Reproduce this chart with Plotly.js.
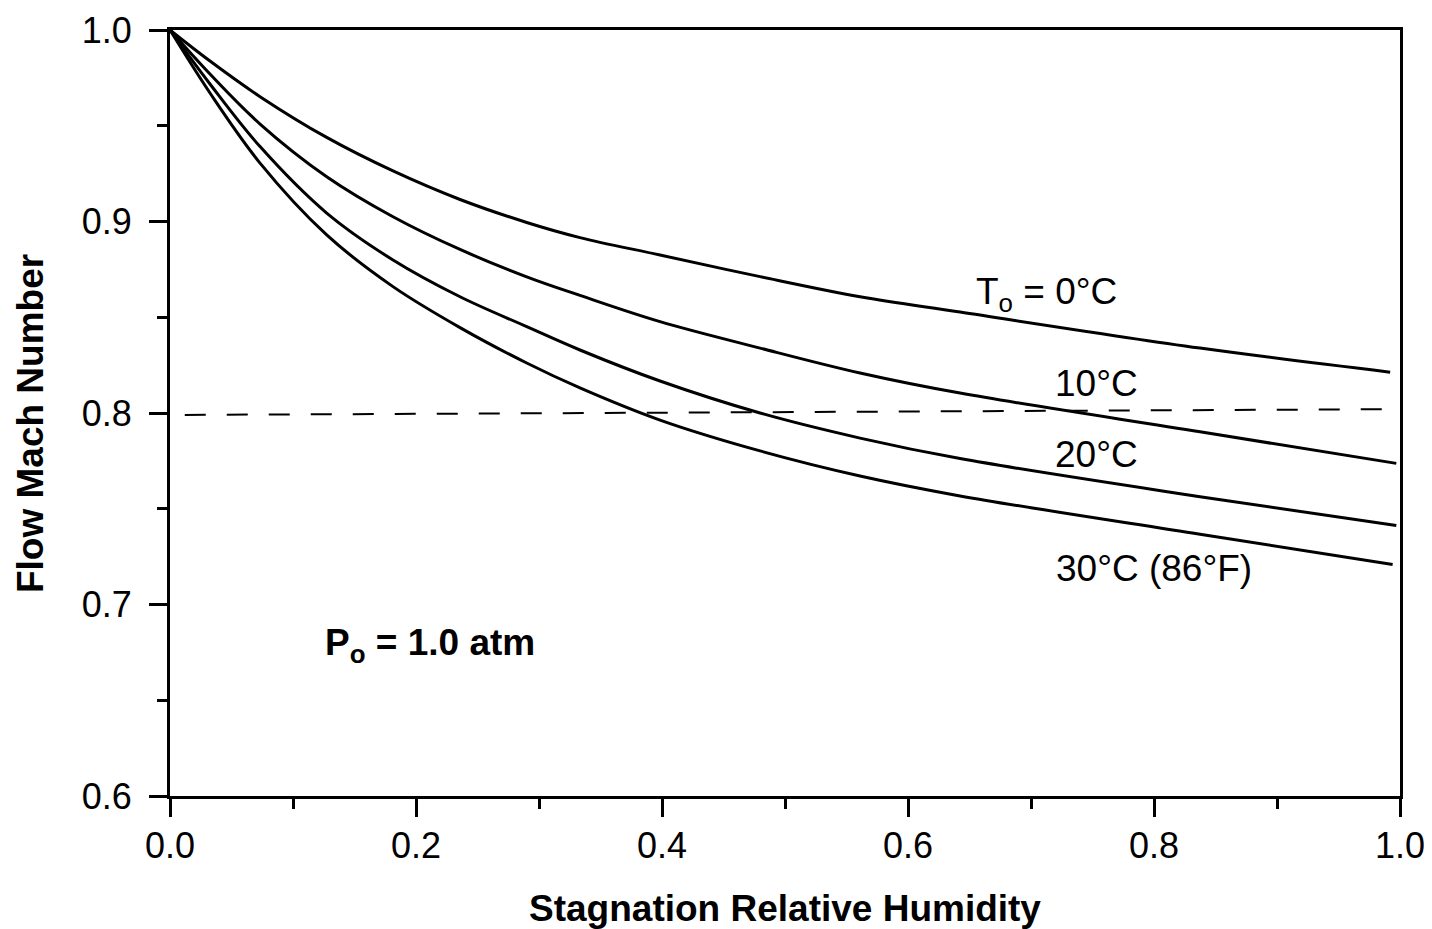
<!DOCTYPE html>
<html>
<head>
<meta charset="utf-8">
<script src="https://cdn.plot.ly/plotly-3.0.1.min.js"></script>
<style>
  html, body { margin: 0; padding: 0; background: #ffffff; }
  #chart { width: 1432px; height: 929px; }
</style>
</head>
<body>
<div id="chart"></div>
<script>
// Stagnation relative humidity (x) and flow Mach number (y) for each stagnation temperature
const humidity0  = [0.0, 0.0325, 0.0732, 0.1274, 0.1813, 0.2358, 0.29, 0.3333, 0.3984, 0.4797, 0.561, 0.6423, 0.8374, 0.992];
const mach0C     = [1.0, 0.9838, 0.9652, 0.9439, 0.9264, 0.9115, 0.8995, 0.8916, 0.8825, 0.8712, 0.8607, 0.8527, 0.8339, 0.8213];

const humidity10 = [0.0, 0.0325, 0.0732, 0.1274, 0.1813, 0.2358, 0.29, 0.3333, 0.3984, 0.4797, 0.561, 0.6423, 0.8374, 0.997];
const mach10C    = [1.0, 0.977, 0.9509, 0.9234, 0.9025, 0.8854, 0.8711, 0.8614, 0.8477, 0.8339, 0.8209, 0.8104, 0.7902, 0.7737];

const humidity20 = [0.0, 0.0325, 0.0732, 0.1274, 0.1813, 0.2358, 0.29, 0.3333, 0.3984, 0.4797, 0.561, 0.6423, 0.8374, 0.997];
const mach20C    = [1.0, 0.9718, 0.9391, 0.9044, 0.8799, 0.8607, 0.8451, 0.8329, 0.8167, 0.8, 0.7869, 0.7762, 0.7563, 0.7412];

const humidity30 = [0.0, 0.0325, 0.0732, 0.1274, 0.1813, 0.2358, 0.29, 0.3333, 0.3984, 0.4797, 0.561, 0.6423, 0.8374, 0.994];
const mach30C    = [1.0, 0.9671, 0.9305, 0.893, 0.866, 0.8446, 0.8261, 0.8131, 0.7963, 0.7802, 0.7671, 0.7567, 0.7367, 0.7209];

// Reference line M = 0.8
const refX = [0.012, 1.0];
const refY = [0.799, 0.802];

// Curve labels
const labelTexts = ["T<sub>o</sub> = 0°C", "10°C", "20°C", "30°C (86°F)"];
const labelX = [0.654, 0.7175, 0.7175, 0.719];
const labelY = [0.8621, 0.8154, 0.7781, 0.719];

const noteText = "<b>P<sub>o</sub> = 1.0 atm</b>";
const noteX = 0.124, noteY = 0.6786;

const xTitle = "<b>Stagnation Relative Humidity</b>";
const yTitle = "<b>Flow Mach Number</b>";

const xTickVals = [0, 0.2, 0.4, 0.6, 0.8, 1.0];
const xTickText = ["0.0", "0.2", "0.4", "0.6", "0.8", "1.0"];
const yTickVals = [0.6, 0.7, 0.8, 0.9, 1.0];
const yTickText = ["0.6", "0.7", "0.8", "0.9", "1.0"];

const FONT = "Liberation Sans, Arial, Helvetica, sans-serif";
const lineStyle = {color: "#000000", width: 3, shape: "spline", smoothing: 1.0};

const traces = [
  {x: humidity0,  y: mach0C,  mode: "lines", line: lineStyle, hoverinfo: "skip"},
  {x: humidity10, y: mach10C, mode: "lines", line: lineStyle, hoverinfo: "skip"},
  {x: humidity20, y: mach20C, mode: "lines", line: lineStyle, hoverinfo: "skip"},
  {x: humidity30, y: mach30C, mode: "lines", line: lineStyle, hoverinfo: "skip"},
  {x: refX, y: refY, mode: "lines", line: {color: "#000000", width: 2, dash: "21px,21px"}, hoverinfo: "skip"}
];

const annotations = labelTexts.map((t, i) => ({
  x: labelX[i], y: labelY[i], xref: "x", yref: "y", text: t, showarrow: false,
  xanchor: "left", yanchor: "middle", font: {family: FONT, size: 37, color: "#000000"}
}));
annotations.push({
  x: noteX, y: noteY, xref: "x", yref: "y", text: noteText, showarrow: false,
  xanchor: "left", yanchor: "middle", font: {family: FONT, size: 37, color: "#000000"}
});
annotations.push({
  x: -0.1138, y: 0.4856, xref: "paper", yref: "paper", text: yTitle, showarrow: false,
  textangle: -90, xanchor: "center", yanchor: "middle", font: {family: FONT, size: 37, color: "#000000"}
});

const axisCommon = {
  showgrid: false, zeroline: false, showline: true, linecolor: "#000000", linewidth: 3,
  mirror: true, ticks: "outside", ticklen: 18, tickwidth: 3, tickcolor: "#000000",
  tickfont: {family: FONT, size: 36, color: "#000000"}
};

const layout = {
  width: 1432, height: 929,
  margin: {l: 170, r: 32, t: 30, b: 133},
  paper_bgcolor: "#ffffff", plot_bgcolor: "#ffffff",
  showlegend: false,
  font: {family: FONT, color: "#000000"},
  xaxis: Object.assign({}, axisCommon, {
    range: [0, 1], tickmode: "array", tickvals: xTickVals, ticktext: xTickText,
    minor: {dtick: 0.1, tick0: 0, ticks: "outside", ticklen: 10, tickwidth: 3, tickcolor: "#000000"},
    ticklabelstandoff: -2,
    title: {text: xTitle, font: {family: FONT, size: 37, color: "#000000"}, standoff: 30}
  }),
  yaxis: Object.assign({}, axisCommon, {
    range: [0.6, 1.0], tickmode: "array", tickvals: yTickVals, ticktext: yTickText,
    minor: {dtick: 0.05, tick0: 0.6, ticks: "outside", ticklen: 10, tickwidth: 3, tickcolor: "#000000"},
    ticklabelstandoff: 10
  }),
  annotations: annotations
};

Plotly.newPlot("chart", traces, layout, {staticPlot: true, displayModeBar: false});
</script>
</body>
</html>
